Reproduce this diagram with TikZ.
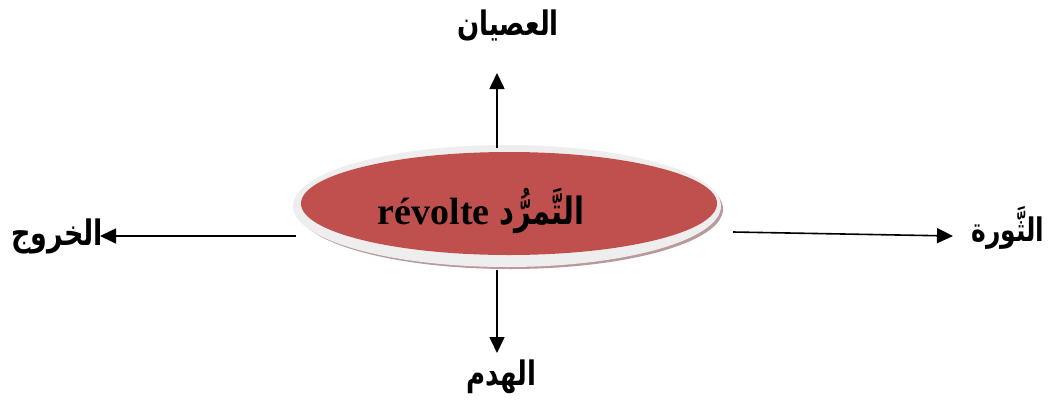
\documentclass[tikz,border=0pt]{standalone}
\usepackage{fontspec}
\setmainfont{Liberation Serif}
\newfontfamily\arabicfont[Script=Arabic]{DejaVu Sans}
\TeXXeTstate=1
\usetikzlibrary{arrows.meta}
\definecolor{capsule}{HTML}{C0504D}
\definecolor{rim}{HTML}{EEEEEE}
\definecolor{rimshadow}{HTML}{B89A9A}
% bold Arabic word, drawn a little taller than the font's own proportions
\newcommand\tallword[2][26]{\scalebox{1}[1.3]{\arabicfont\bfseries\fontsize{#1}{#1}\selectfont\beginR #2\endR}}
\begin{document}
\begin{tikzpicture}[x=1pt,y=-1pt,
  link/.style={line width=1.6pt,-{Triangle[length=16pt,width=15pt]}},
  term/.style={inner sep=0pt},
]
\useasboundingbox (0,0) rectangle (1051,405);
% bevelled capsule: shadow, light rim, red face
\fill[rimshadow] (510,209) ellipse [x radius=213, y radius=60];
\fill[rim] (507,206) ellipse [x radius=214, y radius=61];
\fill[capsule] (509,203.5) ellipse [x radius=208, y radius=51.5];
\node[inner sep=0pt] (title) at (481,211)
  {\bfseries\fontsize{38}{40}\selectfont révolte \tallword[29]{التَّمرُّد}};
% outer terms
\node[term] (up) at (508,25) {\tallword{العصيان}};
\node[term] (down) at (501,377) {\tallword{الهدم}};
\node[term] (left) at (57,236) {\tallword[27]{الخروج}};
\node[term] (right) at (1008,228) {\tallword[25]{الثَّورة}};
% arrow ends
\coordinate (upS) at (497,148);   \coordinate (upT) at (497,73);
\coordinate (downS) at (497,270); \coordinate (downT) at (497,353);
\coordinate (leftS) at (296,236); \coordinate (leftT) at (100,236);
\coordinate (rightS) at (733,232);\coordinate (rightT) at (953,236);
\draw[link] (upS) -- (upT);
\draw[link] (downS) -- (downT);
\draw[link] (leftS) -- (leftT);
\draw[link] (rightS) -- (rightT);
\end{tikzpicture}
\end{document}
